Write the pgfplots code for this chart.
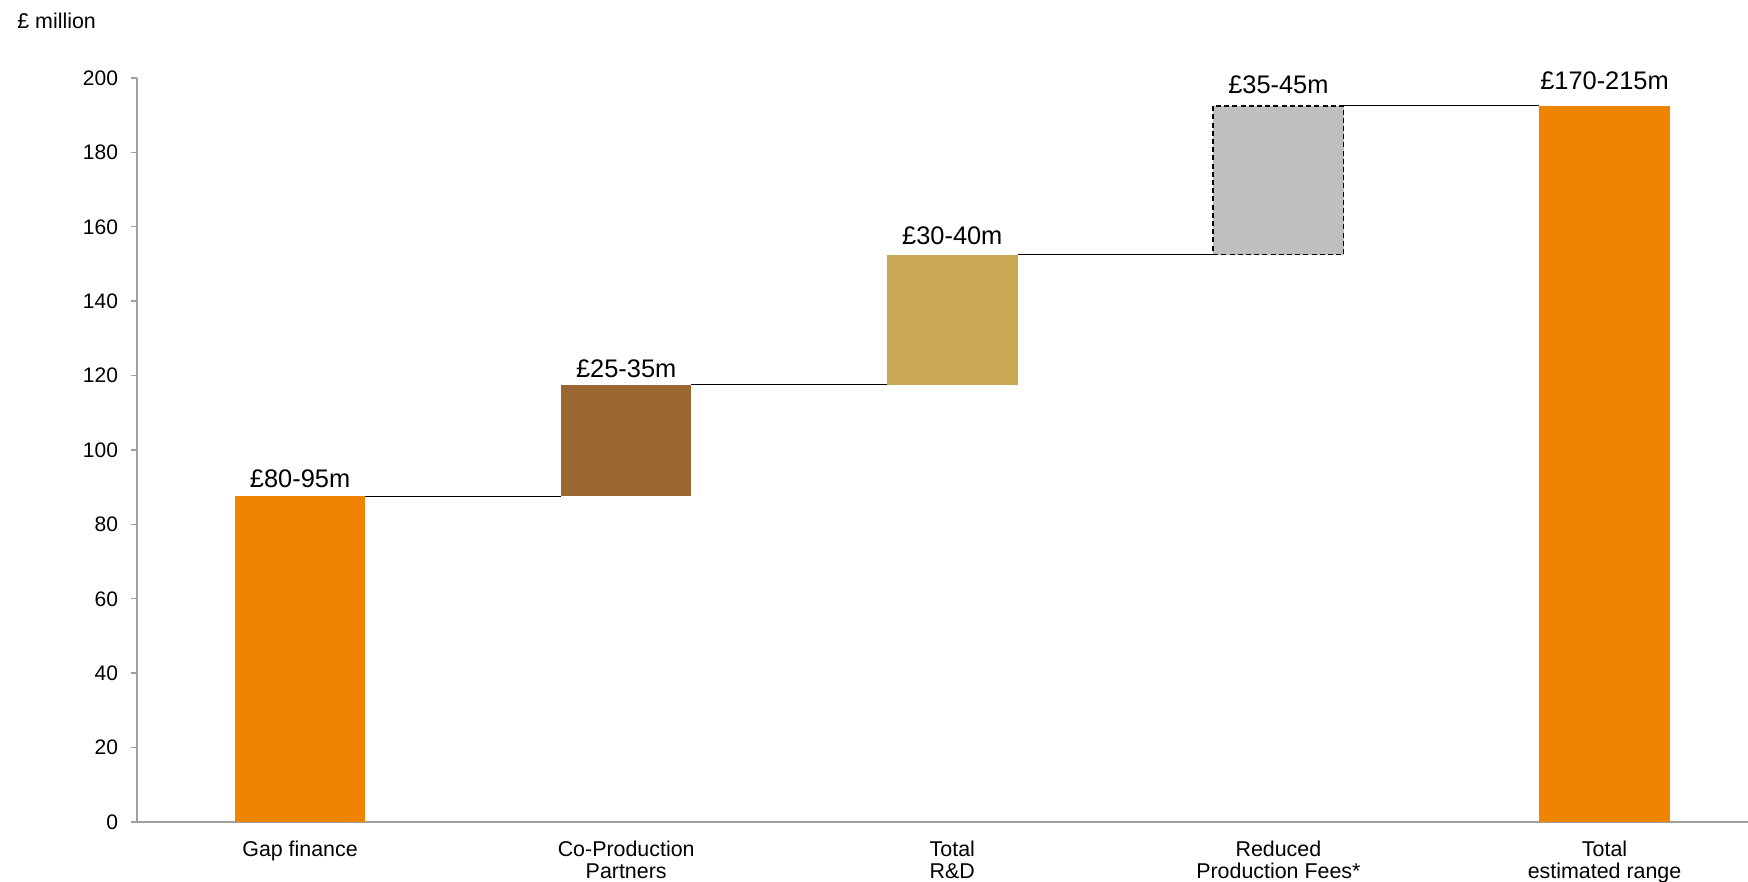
\documentclass[border=0pt]{standalone}
\usepackage{fontspec}
\setmainfont{Liberation Sans}
\usepackage{pgfplots}
\pgfplotsset{compat=1.18}
\definecolor{cOrange}{HTML}{F08300}
\definecolor{cBrown}{HTML}{9C6633}
\definecolor{cTan}{HTML}{C8A854}
\definecolor{cGray}{HTML}{BFBFBF}
\definecolor{cAxis}{HTML}{A0A0A0}
\begin{document}
\begin{tikzpicture}
\path[use as bounding box] (0,0) rectangle (874pt,441pt);
\begin{axis}[
  at={(68.5pt,30pt)}, anchor=south west, scale only axis,
  width=805.5pt, height=372pt,
  xmin=-0.5, xmax=4.44, ymin=0, ymax=200,
  axis x line*=bottom, axis y line*=left,
  axis line style={cAxis, line width=0.7pt},
  ytick={0,20,...,200},
  xtick={0,1,2,3,4},
  xticklabels={Gap finance, Co-Production\\Partners, Total\\R\&D, Reduced\\Production Fees*, Total\\estimated range},
  xticklabel style={align=center, anchor=north, font=\fontsize{10.7}{11.4}\selectfont, yshift=-2.8pt},
  major x tick style={draw=none},
  ytick style={cAxis, line width=0.7pt},
  tick align=outside, major tick length=3pt,
  yticklabel style={font=\fontsize{10.5}{12}\selectfont, xshift=-3pt},
  /pgf/number format/assume math mode=true,
  clip=false,
]
% bars
\addplot[fill=cOrange, draw=none] coordinates {(-0.2,0) (0.2,0) (0.2,87.5) (-0.2,87.5)} -- cycle;
\addplot[fill=cBrown, draw=none] coordinates {(0.8,87.5) (1.2,87.5) (1.2,117.5) (0.8,117.5)} -- cycle;
\addplot[fill=cTan, draw=none] coordinates {(1.8,117.5) (2.2,117.5) (2.2,152.5) (1.8,152.5)} -- cycle;
\addplot[fill=cGray, draw=black, line width=0.7pt, dash pattern=on 2.5pt off 1.6pt] coordinates {(2.8,152.5) (3.2,152.5) (3.2,192.5) (2.8,192.5)} -- cycle;
\addplot[fill=cOrange, draw=none] coordinates {(3.8,0) (4.2,0) (4.2,192.5) (3.8,192.5)} -- cycle;
% connectors
\addplot[black, line width=0.6pt] coordinates {(0.2,87.5) (0.8,87.5)};
\addplot[black, line width=0.6pt] coordinates {(1.2,117.5) (1.8,117.5)};
\addplot[black, line width=0.6pt] coordinates {(2.2,152.5) (2.8,152.5)};
\addplot[black, line width=0.6pt] coordinates {(3.2,192.5) (3.8,192.5)};
% value labels
\node[anchor=base, font=\fontsize{12.7}{14}\selectfont, yshift=4.5pt] at (axis cs:0,87.5) {£80-95m};
\node[anchor=base, font=\fontsize{12.7}{14}\selectfont, yshift=3.9pt] at (axis cs:1,117.5) {£25-35m};
\node[anchor=base, font=\fontsize{12.7}{14}\selectfont, yshift=5pt] at (axis cs:2,152.5) {£30-40m};
\node[anchor=base, font=\fontsize{12.7}{14}\selectfont, yshift=6.3pt] at (axis cs:3,192.5) {£35-45m};
\node[anchor=base, font=\fontsize{12.7}{14}\selectfont, yshift=8pt] at (axis cs:4,192.5) {£170-215m};
\end{axis}
\node[anchor=base west, inner sep=0pt, font=\fontsize{10.7}{12}\selectfont] at (8.5pt,426.5pt) {£ million};
\end{tikzpicture}
\end{document}
